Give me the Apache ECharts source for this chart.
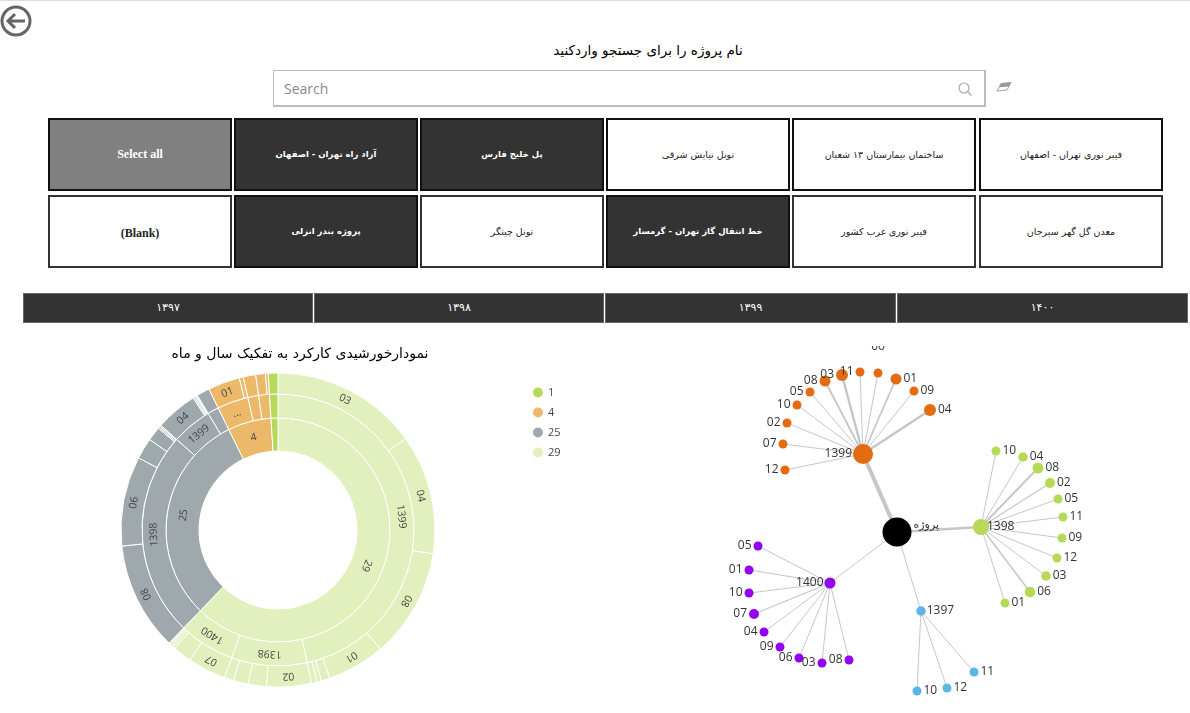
<!DOCTYPE html>
<html lang="fa">
<head>
	<meta charset="utf-8">
	<title></title>
	<style>
		html, body { margin: 0; height: 100%; background: #fff; overflow: hidden; }
		body { font-family: "DejaVu Sans", sans-serif; }
		.topline { position: absolute; left: 0; top: 0; width: 1190px; height: 1px; background: #ddd; }
		.back { position: absolute; left: 0; top: 5px; }
		.heading { position: absolute; left: 448px; width: 400px; top: 42px; text-align: center; font-size: 13.5px; color: #000; direction: rtl; }
		.search { position: absolute; left: 273px; top: 70px; width: 708px; height: 34px; border: 2px solid #bbb; border-top-width: 1px; border-left-width: 1px; font: 14px "Open Sans", sans-serif; color: #888; line-height: 36px; padding-left: 2px; }
		.search span { margin-left: 8px; }
		.icon { position: absolute; }
		.btn { position: absolute; width: 180px; height: 69px; border: 2px solid #111; background: #fff; color: #222; font-size: 9.5px; line-height: 69px; text-align: center; box-sizing: content-box; white-space: nowrap; }
		.btn.low { border-color: #333; }
		.btn.on { background: #333; color: #fff; font-weight: bold; font-size: 8.5px; border-color: #111; }
		.btn.all { background: #808080; color: #fff; font: bold 12px/69px "Liberation Serif", serif; }
		.btn.blank { font: bold 12px/72px "Liberation Serif", serif; }
		.year { position: absolute; top: 293px; height: 30px; box-sizing: border-box; border: 1px solid #666; background: #333; color: #fff; font-size: 11px; line-height: 27px; text-align: center; }
		#sun { position: absolute; left: 0; top: 335px; width: 640px; height: 378px; }
		#tree { position: absolute; left: 640px; top: 346px; width: 550px; height: 367px; }
	</style>
</head>
<body>
<div class="topline"></div>
<svg class="back" width="34" height="34" viewBox="0 0 34 34">
	<circle cx="16" cy="16" r="14" fill="none" stroke="#666" stroke-width="3"/>
	<path d="M25 16H8M15 9l-7 7 7 7" fill="none" stroke="#666" stroke-width="3"/>
</svg>
<div class="heading">نام پروژه را برای جستجو واردکنید</div>
<div class="search"><span>Search</span></div>
<svg class="icon" style="left:957px;top:81px" width="16" height="16" viewBox="0 0 16 16">
	<circle cx="7" cy="7" r="5" fill="none" stroke="#aaa" stroke-width="1.2"/>
	<path d="M10.5 10.5L14.5 14.5" stroke="#aaa" stroke-width="1.2"/>
</svg>
<svg class="icon" style="left:996px;top:81px" width="17" height="13" viewBox="0 0 17 13">
	<path d="M5 2.5L15 1.5 11 9 1 10z" fill="#fff" stroke="#888" stroke-width="0.8"/>
	<path d="M5 2.5L15 1.5 13 5.5 3 6.3z" fill="#999"/>
</svg>
<div id="buttons"></div>
<div id="years"></div>
<div id="sun"></div>
<div id="tree"></div>

<script src="https://fastly.jsdelivr.net/npm/echarts@6/dist/echarts.min.js"></script>
<script type="text/javascript">
	// slicers
	var buttonRow1 = ['Select all', 'آزاد راه تهران - اصفهان', 'پل خلیج فارس', 'تونل نیایش شرقی', 'ساختمان بیمارستان ۱۳ شعبان', 'فیبر نوری تهران - اصفهان'];
	var buttonRow2 = ['(Blank)', 'پروژه بندر انزلی', 'تونل چیتگر', 'خط انتقال گاز تهران - گرمسار', 'فیبر نوری غرب کشور', 'معدن گل گهر سیرجان'];
	var buttonClass1 = ['all', 'on', 'on', '', '', ''];
	var buttonClass2 = ['blank', 'on', '', 'on', '', ''];
	var yearTabs = ['۱۳۹۷', '۱۳۹۸', '۱۳۹۹', '۱۴۰۰'];

	// sunburst: top ring
	var ringNames = ['29', '25', '4', '1'];
	var ringColors = ['#e1f0bc', '#9fa8ad', '#ecb96b', '#b5d95a'];
	// sunburst: months per year, per top ring slice
	var paleYears = ['1399', '1398', '1400'];
	var pale1399Names = ['03', '04', '08', '01', '05', '06', '07'];
	var pale1399Values = [544, 444, 405, 215, 32, 16, 21];
	var pale1398Names = ['02', '05', '06', '09'];
	var pale1398Values = [166, 67, 55, 35];
	var pale1400Names = ['07', '01', '03', '04', '05', '06'];
	var pale1400Values = [142, 69, 9, 8, 7, 5];
	var grayYears = ['1398', '1399', '1400'];
	var gray1398Names = ['08', '06', '02', '03', '05', '07', '09'];
	var gray1398Values = [402, 332, 79, 52, 5, 5, 4];
	var gray1399Names = ['04', '01', '02', '03', '05'];
	var gray1399Values = [155, 5, 5, 4, 4];
	var gray1400Names = ['05'];
	var gray1400Values = [48];
	var orangeYears = ['...', '1398', '1400'];
	var orangeANames = ['01', '02'];
	var orangeAValues = [118, 15];
	var orangeBNames = ['03'];
	var orangeBValues = [46];
	var orangeCNames = ['04', '05'];
	var orangeCValues = [36, 10];
	var greenYears = ['1399'];
	var greenNames = ['10'];
	var greenValues = [36];

	var legendNames = ['1', '4', '25', '29'];
	var legendColors = ['#b5d95a', '#ecb96b', '#9fa8ad', '#e1f0bc'];

	// tree: hierarchy, months with their plotted x, y and weight
	var rootNode = { name: 'پروژه', x: 197, y: 186, weight: 21 };
	var branchNames = ['1399', '1398', '1400', '1397'];
	var branchX = [163, 281, 130, 221];
	var branchY = [108, 181, 237, 265];
	var branchWeights = [12, 8, 3, 1.5];
	var branchColors = ['#e36c13', '#b6d957', '#9400f5', '#5cb7e8'];

	var m1399 = ['12', '07', '02', '10', '05', '08', '03', '11', '06', '01', '09', '04'];
	var x1399 = [85, 83, 87, 97, 110, 125, 142, 160, 178, 196, 214, 230];
	var y1399 = [124, 98, 77, 59, 46, 35, 29, 26, 27, 33, 45, 64];
	var w1399 = [1, 1, 1, 1, 1, 3, 4, 1, 1, 3, 1, 4];

	var m1398 = ['10', '04', '08', '02', '05', '11', '09', '12', '03', '06', '01'];
	var x1398 = [296, 323, 338, 350, 358, 363, 362, 357, 346, 330, 305];
	var y1398 = [105, 111, 122, 137, 153, 171, 192, 212, 230, 246, 257];
	var w1398 = [1, 1.5, 3, 2, 1, 1, 1, 1, 1.5, 2.5, 1];

	var m1400 = ['05', '01', '10', '07', '04', '09', '06', '03', '08'];
	var x1400 = [58, 49, 49, 54, 64, 80, 99, 122, 149];
	var y1400 = [200, 224, 247, 268, 286, 301, 312, 317, 314];
	var w1400 = [1, 1, 1, 2, 1, 1, 1, 1, 1];

	var m1397 = ['11', '12', '10'];
	var x1397 = [274, 247, 217];
	var y1397 = [326, 342, 345];
	var w1397 = [1, 1, 1];

	// page furniture
	var colLeft = [48, 234, 420, 606, 792, 979];
	var btnHtml = '';
	for (var i = 0; i < 6; i++) {
		btnHtml += '<div class="btn ' + buttonClass1[i] + '" style="left:' + colLeft[i] + 'px;top:118px"><bdi>' + buttonRow1[i] + '</bdi></div>';
		btnHtml += '<div class="btn low ' + buttonClass2[i] + '" style="left:' + colLeft[i] + 'px;top:195px"><bdi>' + buttonRow2[i] + '</bdi></div>';
	}
	document.getElementById('buttons').innerHTML = btnHtml;
	var tabLeft = [23, 314, 605, 897];
	var tabWidth = [290, 290, 291, 291];
	document.getElementById('years').innerHTML = yearTabs.map(function (t, i) {
		return '<div class="year" style="left:' + tabLeft[i] + 'px;width:' + tabWidth[i] + 'px">' + t + '</div>';
	}).join('');

	// sunburst
	function leaves(names, values) {
		return names.map(function (n, i) { return { name: n, value: values[i] }; });
	}
	var sunData = [
		{ name: ringNames[0], children: [
			{ name: paleYears[0], children: leaves(pale1399Names, pale1399Values) },
			{ name: paleYears[1], children: leaves(pale1398Names, pale1398Values) },
			{ name: paleYears[2], children: leaves(pale1400Names, pale1400Values) }
		] },
		{ name: ringNames[1], children: [
			{ name: grayYears[0], children: leaves(gray1398Names, gray1398Values) },
			{ name: grayYears[1], children: leaves(gray1399Names, gray1399Values) },
			{ name: grayYears[2], children: leaves(gray1400Names, gray1400Values) }
		] },
		{ name: ringNames[2], children: [
			{ name: orangeYears[0], children: leaves(orangeANames, orangeAValues) },
			{ name: orangeYears[1], children: leaves(orangeBNames, orangeBValues) },
			{ name: orangeYears[2], children: leaves(orangeCNames, orangeCValues) }
		] },
		{ name: ringNames[3], children: [
			{ name: greenYears[0], children: leaves(greenNames, greenValues) }
		] }
	];

	function sumOf(node) {
		if (!node.children) return node.value;
		return node.children.reduce(function (s, c) { return s + sumOf(c); }, 0);
	}
	var total = sunData.reduce(function (s, c) { return s + sumOf(c); }, 0);

	// labels follow the ring all the way round, as in the original, so they turn upside down at the bottom
	function dress(nodes, start, color) {
		var pos = start;
		nodes.forEach(function (n, i) {
			var size = sumOf(n);
			var deg = size / total * 360;
			var mid = (pos + size / 2) / total * 360;
			var c = color || ringColors[i];
			n.itemStyle = { color: c };
			n.label = { show: deg >= 10, rotate: -mid };
			if (n.children) dress(n.children, pos, c);
			pos += size;
		});
	}
	dress(sunData, 0);

	var sunChart = echarts.init(document.getElementById('sun'), null, { renderer: 'canvas' });
	sunChart.setOption({
		animation: false,
		title: {
			text: 'نمودارخورشیدی کارکرد به تفکیک سال و ماه',
			left: 295,
			top: 7,
			textAlign: 'center',
			textStyle: { fontFamily: 'DejaVu Sans', fontSize: 14, fontWeight: 'normal', color: '#000' }
		},
		legend: {
			orient: 'vertical',
			left: 528,
			top: 47,
			itemWidth: 10,
			itemHeight: 10,
			itemGap: 9,
			icon: 'circle',
			selectedMode: false,
			data: legendNames,
			textStyle: { fontFamily: 'Open Sans', fontSize: 11, color: '#444' }
		},
		series: [
			{
				type: 'pie',
				silent: true,
				radius: [0, 0],
				center: [278, 195],
				label: { show: false },
				labelLine: { show: false },
				data: legendNames.map(function (n, i) {
					return { name: n, value: 1, itemStyle: { color: legendColors[i] } };
				})
			},
			{
				type: 'sunburst',
				sort: null,
				nodeClick: false,
				startAngle: 90,
				center: [278, 195],
				radius: [79, 157],
				data: sunData,
				label: { fontFamily: 'Open Sans', fontSize: 10.5, color: '#444', position: 'inside', align: 'center' },
				itemStyle: { borderColor: '#fff', borderWidth: 1 },
				levels: [
					{},
					{ r0: 79, r: 112 },
					{ r0: 112, r: 136 },
					{ r0: 136, r: 157 }
				]
			}
		]
	});

	// tree of year and month, on hidden value axes
	function sizeOf(w) { return 8 + w; }
	var labelBase = { show: true, fontFamily: 'Open Sans', fontSize: 12, color: '#333', distance: 2 };
	var treeNodes = [{
		id: 'root', name: rootNode.name, value: [rootNode.x, rootNode.y],
		symbolSize: sizeOf(rootNode.weight), itemStyle: { color: '#000' },
		label: Object.assign({}, labelBase, { position: 'right', offset: [0, -7], fontFamily: 'DejaVu Sans', fontSize: 11 })
	}];
	var treeLinks = [];
	var branchSides = ['left', 'right', 'left', 'right'];

	function addBranch(b, months, xs, ys, ws) {
		var id = branchNames[b];
		treeNodes.push({
			id: id, name: id, value: [branchX[b], branchY[b]],
			symbolSize: sizeOf(branchWeights[b]), itemStyle: { color: branchColors[b] },
			label: Object.assign({}, labelBase, { position: branchSides[b], distance: id === '1398' ? -2 : 1 })
		});
		treeLinks.push({ source: 'root', target: id, lineStyle: { width: Math.max(1, branchWeights[b] / 3) } });
		months.forEach(function (m, i) {
			var leafId = id + '-' + m;
			var side = branchSides[b];
			if (id === '1399' && i > 8) side = 'right';
			var lab = Object.assign({}, labelBase, { position: side });
			if (id === '1399' && m === '06') { lab.position = 'top'; lab.distance = 16; }
			treeNodes.push({
				id: leafId, name: m, value: [xs[i], ys[i]],
				symbolSize: sizeOf(ws[i]), itemStyle: { color: branchColors[b] },
				label: lab
			});
			treeLinks.push({ source: id, target: leafId, lineStyle: { width: Math.max(1, ws[i] * 0.6) } });
		});
	}
	addBranch(0, m1399, x1399, y1399, w1399);
	addBranch(1, m1398, x1398, y1398, w1398);
	addBranch(2, m1400, x1400, y1400, w1400);
	addBranch(3, m1397, x1397, y1397, w1397);

	var treeChart = echarts.init(document.getElementById('tree'), null, { renderer: 'canvas' });
	treeChart.setOption({
		animation: false,
		grid: { left: 60, top: 0, width: 400, height: 360 },
		xAxis: { type: 'value', min: 0, max: 400, show: false },
		yAxis: { type: 'value', min: 0, max: 360, inverse: true, show: false },
		series: [{
			type: 'graph',
			coordinateSystem: 'cartesian2d',
			data: treeNodes,
			links: treeLinks,
			silent: true,
			lineStyle: { color: '#c6c6c6', opacity: 1, curveness: 0 }
		}]
	});
	window.addEventListener('resize', function () { sunChart.resize(); treeChart.resize(); });
</script>
</body>
</html>
